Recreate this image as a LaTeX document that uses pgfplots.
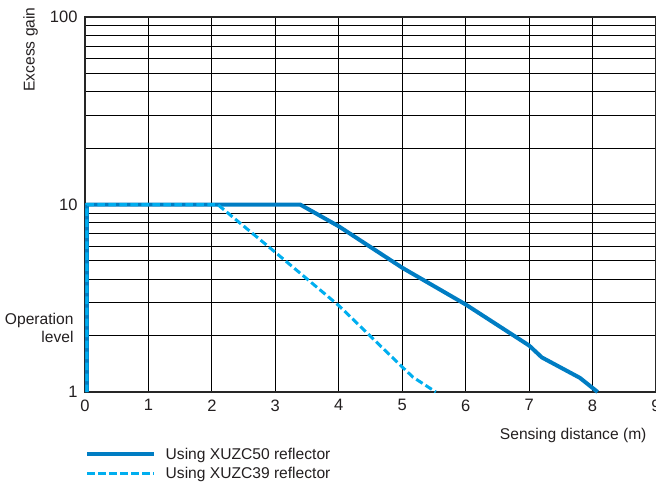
\documentclass[border=0pt]{standalone}
\usepackage{pgfplots}
\pgfplotsset{compat=1.18}
\usepackage{fontspec}
\setmainfont{Liberation Sans}
\definecolor{solidblue}{RGB}{0,125,195}
\definecolor{dashblue}{RGB}{0,174,239}
\definecolor{txt}{RGB}{35,31,32}
\newcommand{\lblfont}{\fontsize{15.6bp}{18.7bp}\selectfont}
\newcommand{\tickfont}{\fontsize{16.5bp}{19bp}\selectfont}
\begin{document}
\begin{tikzpicture}
\begin{axis}[
  at={(0,0)}, anchor=south west,
  scale only axis, width=571bp, height=375bp,
  ymode=log, xmin=0, xmax=9, ymin=1, ymax=100,
  xtick={0,1,...,9}, ytick={1,10,100},
  log ticks with fixed point,
  /pgf/number format/assume math mode=true,
  major tick length=0pt, minor tick length=0pt,
  xmajorgrids, ymajorgrids, yminorgrids,
  grid style={black, line width=0.9bp},
  minor grid style={black, line width=0.9bp},
  axis line style={black!85, line width=2.2bp},
  tick label style={font=\tickfont, text=txt},
  xticklabel style={yshift=-4bp},
  yticklabel style={xshift=-4bp},
  xlabel={Sensing distance (m)},
  ylabel={Excess gain},
  every axis x label/.style={at={(axis description cs:1,0)}, xshift=-6bp, yshift=-43bp, anchor=east, font=\lblfont, text=txt},
  every axis y label/.style={at={(axis description cs:0,1)}, xshift=-54.5bp, yshift=-32.5bp, rotate=90, anchor=center, font=\lblfont, text=txt},
  legend style={at={(axis description cs:0,0)}, anchor=north west, yshift=-54bp, draw=none, fill=none, inner sep=0pt, row sep=3.5bp, column sep=8bp, font=\lblfont, text=txt, cells={anchor=west}, nodes={inner sep=1.5bp}},
  legend image code/.code={\draw[#1] (0bp,0bp) -- (67bp,0bp);},
  clip=false,
]
\addplot[solidblue, line width=4bp, line join=round] coordinates {
  (0.03,1) (0.03,10) (3.39,10) (4,7.65) (5,4.6) (6,2.93) (7,1.77) (7.2,1.53) (7.8,1.19) (8.08,1)
};
\addlegendentry{Using XUZC50 reflector}
\addplot[dashblue, line width=3bp, dash pattern=on 7.5bp off 3.5bp] coordinates {
  (0.03,1) (0.03,10) (2.09,10) (2.94,5.78) (4,2.89) (5,1.36) (5.17,1.2) (5.53,1)
};
\addlegendentry{Using XUZC39 reflector}
\node[anchor=east, align=right, font=\lblfont, text=txt, xshift=-8bp, yshift=64bp] at (axis description cs:0,0) {Operation\\level};
\end{axis}
\pgfresetboundingbox
\path (-85bp,-92bp) rectangle (571bp,392bp);
\end{tikzpicture}
\end{document}
